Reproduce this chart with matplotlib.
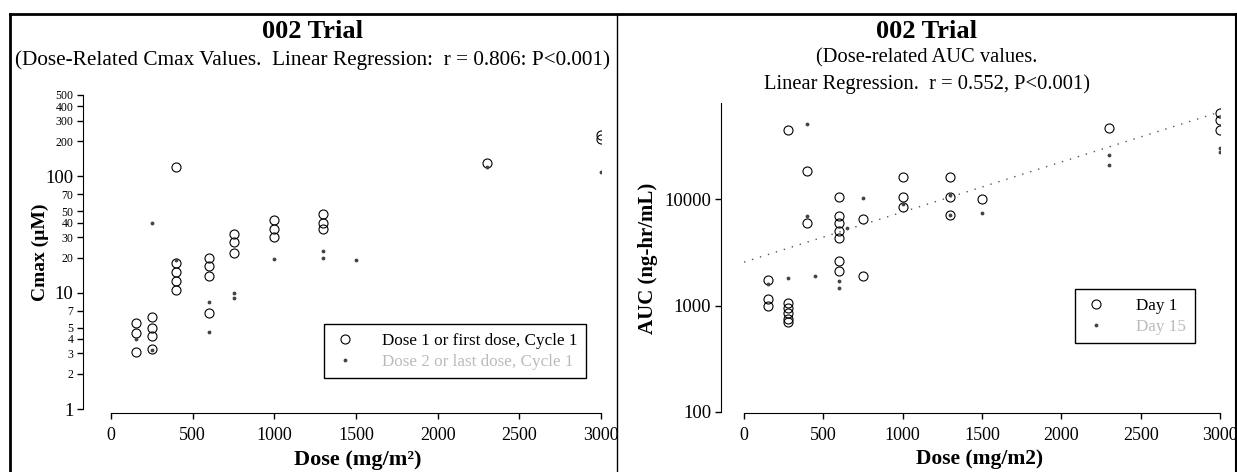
import matplotlib
matplotlib.use("Agg")
import matplotlib.pyplot as plt
from matplotlib.lines import Line2D
from matplotlib.ticker import FixedLocator, NullLocator, NullFormatter

plt.rcParams['font.family'] = ['Liberation Serif', 'DejaVu Serif']

# ---------------- data ----------------
# Left panel: Cmax vs dose
cmax_dose1_x = [150, 150, 150, 250, 250, 250, 250, 400, 400, 400, 400, 400,
                600, 600, 600, 600, 750, 750, 750, 1000, 1000, 1000,
                1300, 1300, 1300, 2300, 3000, 3000]
cmax_dose1_y = [5.5, 4.5, 3.1, 6.2, 5.0, 4.2, 3.3, 10.5, 12.5, 15, 18, 120,
                6.7, 14, 17, 20, 22, 27, 32, 30, 35, 42,
                35, 40, 47, 130, 210, 225]
cmax_dose2_x = [150, 250, 250, 400, 600, 600, 750, 750, 1000, 1300, 1300, 1500, 2300, 3000]
cmax_dose2_y = [4.0, 40, 3.2, 19, 8.3, 4.6, 9, 10, 19.5, 23, 20, 19, 120, 108]

cmax_major_ticks = [1, 10, 100]
cmax_minor_ticks = [2, 3, 4, 5, 7, 20, 30, 40, 50, 70, 200, 300, 400, 500]
dose_ticks = [0, 500, 1000, 1500, 2000, 2500, 3000]

# Right panel: AUC vs dose
auc_day1_x = [150, 150, 150, 280, 280, 280, 280, 280, 280, 400, 400,
              600, 600, 600, 600, 600, 600, 600, 750, 750,
              1000, 1000, 1000, 1300, 1300, 1300, 1500, 2300, 3000, 3000, 3000]
auc_day1_y = [1750, 1150, 1000, 1050, 950, 850, 750, 700, 45000, 18500, 6000,
              10400, 7000, 6000, 5000, 4300, 2600, 2100, 6500, 1900,
              16000, 10500, 8500, 16000, 10500, 7100, 10000, 47000, 65000, 55000, 45000]
auc_day2_x = [150, 280, 400, 400, 450, 600, 600, 650, 750, 1000, 1300, 1300,
              1500, 2300, 2300, 3000, 3000]
auc_day2_y = [1600, 1800, 51000, 7000, 1900, 1460, 1700, 5400, 10200, 9000, 10900, 7100,
              7400, 26000, 21000, 30000, 28000]
auc_trend_x = [0, 3000]
auc_trend_y = [2560, 66000]
auc_ticks = [100, 1000, 10000]

W, H = 1237, 472
fig = plt.figure(figsize=(W / 100, H / 100), dpi=100)


def fx(px):
    return px / W


def fy(py):
    return 1 - py / H


# panel frames
fig.add_artist(Line2D([fx(10), fx(1236)], [fy(14), fy(14)], color='black', lw=2))
fig.add_artist(Line2D([fx(10), fx(10)], [fy(14), fy(472)], color='black', lw=2))
fig.add_artist(Line2D([fx(617), fx(617)], [fy(14), fy(472)], color='black', lw=1))
fig.add_artist(Line2D([fx(1236), fx(1236)], [fy(14), fy(472)], color='black', lw=1.5))

circ = dict(marker='o', linestyle='none', markerfacecolor='none',
            markeredgecolor='black', markeredgewidth=0.8, markersize=6.5)
dots = dict(marker='.', linestyle='none', color='#444444', markersize=3.5)

TICK_FS = 13

# ---------------- left panel ----------------
axL = fig.add_axes([fx(111), fy(409), fx(601) - fx(111), fy(95) - fy(409)])
axL.plot(cmax_dose1_x, cmax_dose1_y, label='Dose 1 or first dose, Cycle 1', **circ)
axL.plot(cmax_dose2_x, cmax_dose2_y, label='Dose 2 or last dose, Cycle 1', **dots)
axL.set_yscale('log')
axL.set_xlim(0, 3000)
axL.set_ylim(1, 500)
axL.spines['top'].set_visible(False)
axL.spines['right'].set_visible(False)
axL.spines['left'].set_position(('outward', 20))
axL.spines['bottom'].set_position(('outward', 3))
axL.tick_params(axis='both', which='both', direction='out', length=4, width=1, pad=3)
axL.tick_params(axis='x', pad=6, labelsize=TICK_FS)
yt = sorted(cmax_major_ticks + cmax_minor_ticks)
axL.yaxis.set_major_locator(FixedLocator(yt))
axL.yaxis.set_minor_locator(NullLocator())
axL.set_yticks(yt)
axL.set_yticklabels([str(v) for v in yt])
axL.set_xticks(dose_ticks)
axL.set_xticklabels([str(v) for v in dose_ticks])
fig.canvas.draw()
for lab in axL.get_xticklabels():
    lab.set_fontsize(TICK_FS)
for tick, v in zip(axL.yaxis.get_major_ticks(), yt):
    tick.label1.set_fontsize(13.5 if v in cmax_major_ticks else 8.5)
axL.set_xlabel('Dose (mg/m²)', fontsize=16, fontweight='bold', va='center')
axL.xaxis.set_label_coords(fx(358), fy(460), transform=fig.transFigure)
axL.set_ylabel('Cmax (µM)', fontsize=14, fontweight='bold', va='center')
axL.yaxis.set_label_coords(fx(40), fy(252), transform=fig.transFigure)
legL = axL.legend(loc='upper left', bbox_to_anchor=(fx(324), fy(324)),
                  bbox_transform=fig.transFigure, borderaxespad=0,
                  fancybox=False, edgecolor='black', framealpha=1,
                  fontsize=12.3, handlelength=1.5, handletextpad=1.4,
                  borderpad=0.5, labelspacing=0.3)
legL.get_frame().set_linewidth(1)
legL.get_texts()[1].set_color('#bbbbbb')

fig.text(fx(313), fy(31), '002 Trial', ha='center', va='center',
         fontsize=19, fontweight='bold')
fig.text(fx(313), fy(60),
         '(Dose-Related Cmax Values.  Linear Regression:  r = 0.806: P<0.001)',
         ha='center', va='center', fontsize=15.3)

# ---------------- right panel ----------------
axR = fig.add_axes([fx(744), fy(412), fx(1220) - fx(744), fy(103) - fy(412)])
axR.plot(auc_day1_x, auc_day1_y, label='Day 1', **circ)
axR.plot(auc_day2_x, auc_day2_y, label='Day 15', **dots)
axR.plot(auc_trend_x, auc_trend_y, linestyle=(0, (1, 5)), color='#555555', lw=1.0)
axR.set_yscale('log')
axR.set_xlim(0, 3000)
axR.set_ylim(100, 80000)
axR.spines['top'].set_visible(False)
axR.spines['right'].set_visible(False)
axR.spines['left'].set_position(('outward', 16.5))
axR.spines['bottom'].set_position(('outward', 1))
axR.tick_params(axis='both', which='both', direction='out', length=4, width=1, pad=3)
axR.tick_params(axis='x', pad=6, labelsize=TICK_FS)
axR.tick_params(axis='y', labelsize=13.5)
axR.yaxis.set_major_locator(FixedLocator(auc_ticks))
axR.yaxis.set_minor_locator(NullLocator())
axR.yaxis.set_minor_formatter(NullFormatter())
axR.set_yticks(auc_ticks)
axR.set_yticklabels([str(v) for v in auc_ticks])
axR.set_xticks(dose_ticks)
axR.set_xticklabels([str(v) for v in dose_ticks])
axR.set_xlabel('Dose (mg/m2)', fontsize=15.5, fontweight='bold', va='center')
axR.xaxis.set_label_coords(fx(980), fy(459), transform=fig.transFigure)
axR.set_ylabel('AUC (ng-hr/mL)', fontsize=15, fontweight='bold', va='center')
axR.yaxis.set_label_coords(fx(648), fy(258), transform=fig.transFigure)
legR = axR.legend(loc='upper left', bbox_to_anchor=(fx(1075), fy(289)),
                  bbox_transform=fig.transFigure, borderaxespad=0,
                  fancybox=False, edgecolor='black', framealpha=1,
                  fontsize=12.3, handlelength=1.5, handletextpad=1.6,
                  borderpad=0.5, labelspacing=0.3)
legR.get_frame().set_linewidth(1)
legR.get_texts()[1].set_color('#bbbbbb')

fig.text(fx(927), fy(31), '002 Trial', ha='center', va='center',
         fontsize=19, fontweight='bold')
fig.text(fx(927), fy(58), '(Dose-related AUC values.',
         ha='center', va='center', fontsize=14.8)
fig.text(fx(927), fy(84), 'Linear Regression.  r = 0.552, P<0.001)',
         ha='center', va='center', fontsize=14.8)

fig.savefig('out.png', dpi=100)
